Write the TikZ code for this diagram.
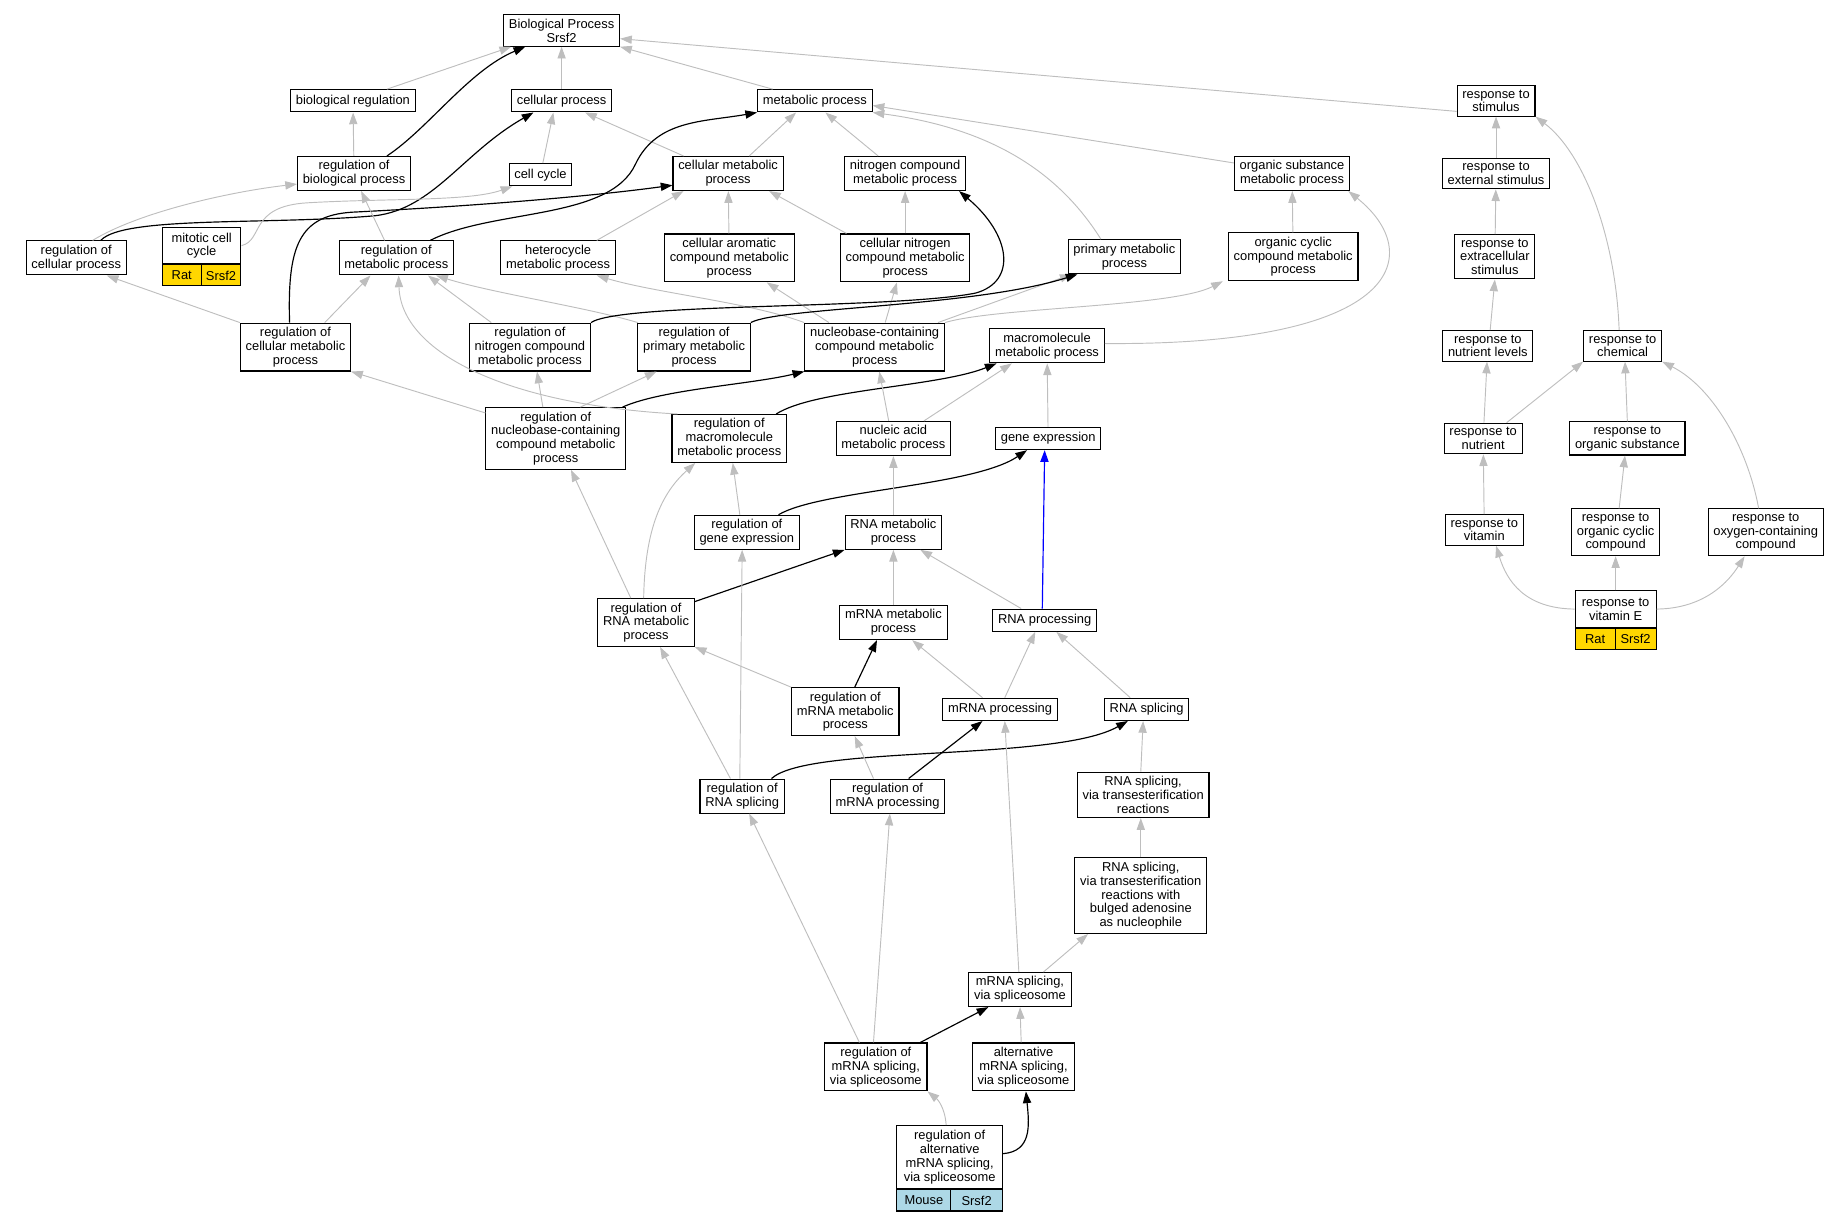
\documentclass[tikz,border=0pt]{standalone}
\usepackage{fontspec}
\setmainfont{Liberation Sans}
\usetikzlibrary{arrows.meta}
\definecolor{edgegray}{RGB}{190,190,190}
\definecolor{ratgold}{RGB}{255,215,0}
\definecolor{mouseblue}{RGB}{173,216,230}
\newcommand\gofont{\fontsize{11}{11.8}\selectfont}

\begin{document}
\begin{tikzpicture}[x=1pt,y=-1pt,
  term/.style={draw,line width=0.9pt,fill=white,align=center,font=\gofont,inner xsep=4.5pt,inner ysep=3.5pt,minimum height=19pt},
  tag/.style={draw,line width=0.9pt,font=\gofont,inner sep=0pt,minimum height=18pt},
  isa/.style={draw=edgegray,line width=0.8pt,-{Triangle[length=10pt,width=7pt]}},
  reg/.style={line width=1pt,-{Triangle[length=10pt,width=7pt]}},
  part/.style={draw=blue,line width=1pt,-{Triangle[length=10pt,width=7pt]}}]
\useasboundingbox (0,0) rectangle (1560,1040);

\node [term] (bp) at (479,26) {Biological Process\\Srsf2};
\node [term] (breg) at (301,86) {biological regulation};
\node [term] (cellp) at (479,86) {cellular process};
\node [term] (metp) at (695,86) {metabolic process};
\node [term] (rstim) at (1276,86) {response to\\stimulus};
\node [term] (rbp) at (302,148) {regulation of\\biological process};
\node [term] (cellcyc) at (461,149) {cell cycle};
\node [term] (cmp) at (621,148) {cellular metabolic\\process};
\node [term] (ncmp) at (772,148) {nitrogen compound\\metabolic process};
\node [term] (osmp) at (1102,148) {organic substance\\metabolic process};
\node [term] (rext) at (1276,148) {response to\\external stimulus};
\node [term] (rcp) at (65,220) {regulation of\\cellular process};
\node [term,minimum width=67pt,minimum height=31pt] (mit) at (172,209.5) {mitotic cell\\cycle};
\node [tag,fill=ratgold,minimum width=33pt,anchor=north west] (mita) at (mit.south west) {Rat};
\node [tag,fill=ratgold,minimum width=34pt,anchor=north east] (mitb) at (mit.south east) {Srsf2};
\node [term] (rmp) at (338,220) {regulation of\\metabolic process};
\node [term] (hmp) at (476,220) {heterocycle\\metabolic process};
\node [term] (camp) at (622,220) {cellular aromatic\\compound metabolic\\process};
\node [term] (cnmp) at (772,220) {cellular nitrogen\\compound metabolic\\process};
\node [term] (pmp) at (959,219) {primary metabolic\\process};
\node [term] (ocmp) at (1103,219) {organic cyclic\\compound metabolic\\process};
\node [term] (rextra) at (1275,219) {response to\\extracellular\\stimulus};
\node [term] (rcmp) at (252,296) {regulation of\\cellular metabolic\\process};
\node [term] (rncmp) at (452,296) {regulation of\\nitrogen compound\\metabolic process};
\node [term] (rpmp) at (592,296) {regulation of\\primary metabolic\\process};
\node [term] (nbcmp) at (746,296) {nucleobase-containing\\compound metabolic\\process};
\node [term] (mmp) at (893,295) {macromolecule\\metabolic process};
\node [term] (rnutl) at (1269,295) {response to\\nutrient levels};
\node [term] (rchem) at (1384,295) {response to\\chemical};
\node [term] (rnbcmp) at (474,374) {regulation of\\nucleobase-containing\\compound metabolic\\process};
\node [term] (rmmp) at (622,374) {regulation of\\macromolecule\\metabolic process};
\node [term] (namp) at (762,374) {nucleic acid\\metabolic process};
\node [term] (gexp) at (894,374) {gene expression};
\node [term] (rnut) at (1265,374) {response to\\nutrient};
\node [term] (rorgs) at (1388,374) {response to\\organic substance};
\node [term] (rge) at (637,454) {regulation of\\gene expression};
\node [term] (rnamp) at (762,454) {RNA metabolic\\process};
\node [term] (rvit) at (1266,452) {response to\\vitamin};
\node [term] (rocc) at (1378,454) {response to\\organic cyclic\\compound};
\node [term] (roxy) at (1506,454) {response to\\oxygen-containing\\compound};
\node [term] (rrnamp) at (551,531) {regulation of\\RNA metabolic\\process};
\node [term] (mrnamp) at (762,531) {mRNA metabolic\\process};
\node [term] (rnaproc) at (891,529) {RNA processing};
\node [term,minimum width=69pt,minimum height=31pt] (rvitE) at (1378,519.5) {response to\\vitamin E};
\node [tag,fill=ratgold,minimum width=34pt,anchor=north west] (rvitEa) at (rvitE.south west) {Rat};
\node [tag,fill=ratgold,minimum width=35pt,anchor=north east] (rvitEb) at (rvitE.south east) {Srsf2};
\node [term] (rmrnamp) at (721,607) {regulation of\\mRNA metabolic\\process};
\node [term] (mrnaproc) at (853,605) {mRNA processing};
\node [term] (rnasplic) at (978,605) {RNA splicing};
\node [term] (rrnas) at (633,679) {regulation of\\RNA splicing};
\node [term] (rmrnaproc) at (757,679) {regulation of\\mRNA processing};
\node [term] (rsvt) at (975,678) {RNA splicing,\\via transesterification\\reactions};
\node [term] (rsvtb) at (973,764) {RNA splicing,\\via transesterification\\reactions with\\bulged adenosine\\as nucleophile};
\node [term] (mrnasps) at (870,844) {mRNA splicing,\\via spliceosome};
\node [term] (rmrnasps) at (747,910) {regulation of\\mRNA splicing,\\via spliceosome};
\node [term] (amrnasps) at (873,910) {alternative\\mRNA splicing,\\via spliceosome};
\node [term,minimum width=90pt,minimum height=54pt] (ramr) at (810,987) {regulation of\\alternative\\mRNA splicing,\\via spliceosome};
\node [tag,fill=mouseblue,minimum width=46pt,anchor=north west] (ramra) at (ramr.south west) {Mouse};
\node [tag,fill=mouseblue,minimum width=44pt,anchor=north east] (ramrb) at (ramr.south east) {Srsf2};

\draw [isa] ([xshift=29]breg.north) -- ([xshift=-43]bp.south);
\draw [reg] ([xshift=28]rbp.north) .. controls (365,110) and (400,60) .. ([xshift=-31]bp.south);
\draw [isa] (cellp) -- (bp);
\draw [isa] ([xshift=-36]metp.north) -- (bp.south east);
\draw [isa] ([yshift=-9]rstim.west) -- ([yshift=-7]bp.east);
\draw [isa] (rbp) -- (breg);
\draw [isa] ([xshift=2]cellcyc.north) -- ([xshift=-7]cellp.south);
\draw [isa] ([xshift=-38]cmp.north) -- ([xshift=20]cellp.south);
\draw [reg] ([xshift=21]rcp.north) .. controls (105,184) and (230,192) .. (320,184) .. controls (370,178) and (395,130) .. ([xshift=-24]cellp.south);
\draw [reg] ([xshift=-5]rcmp.north) .. controls (245,210) and (255,184) .. (300,181) .. controls (400,176) and (500,168) .. ([yshift=-10]cmp.west);
\draw [reg] ([xshift=29]rmp.north) .. controls (420,178) and (520,188) .. (542,140) .. controls (560,102) and (600,104) .. (metp.south west);
\draw [isa] ([xshift=14]rcp.north) .. controls (120,180) and (200,163) .. ([yshift=-9]rbp.west);
\draw [isa] (mit.east) .. controls (225,205) and (212,176) .. (262,173) .. controls (330,169) and (400,172) .. ([xshift=-24]cellcyc.south);
\draw [isa] ([xshift=-10]rmp.north) -- ([xshift=6]rbp.south);
\draw [isa] (rcmp.north west) -- ([xshift=26]rcp.south);
\draw [isa] ([xshift=25]rcmp.north) -- ([xshift=-22]rmp.south);
\draw [isa] ([xshift=-33]rncmp.north) -- ([xshift=27]rmp.south);
\draw [isa] ([xshift=-48]rpmp.north) .. controls (500,262) and (420,250) .. ([xshift=34]rmp.south);
\draw [isa] ([xshift=-44]rmmp.north) .. controls (430,345) and (342,300) .. ([xshift=2]rmp.south);
\draw [isa] ([xshift=33]hmp.north) -- ([xshift=-38]cmp.south);
\draw [isa] (camp) -- (cmp);
\draw [isa] ([xshift=-50]cnmp.north) -- ([xshift=35]cmp.south);
\draw [isa] (cnmp) -- (ncmp);
\draw [isa] ([xshift=18]cmp.north) -- ([xshift=-16]metp.south);
\draw [isa] ([xshift=-23]ncmp.north) -- ([xshift=9]metp.south);
\draw [isa] ([xshift=-20]pmp.north) .. controls (905,150) and (850,110) .. (metp.south east);
\draw [isa] ([yshift=9]osmp.west) -- ([yshift=-4]metp.east);
\draw [isa] (nbcmp.north west) .. controls (640,258) and (560,250) .. ([xshift=33]hmp.south);
\draw [isa] ([xshift=-39]nbcmp.north) -- ([xshift=32]camp.south);
\draw [isa] ([xshift=9]nbcmp.north) -- ([xshift=-7]cnmp.south);
\draw [isa] ([xshift=54]nbcmp.north) -- ([xshift=-45]pmp.south);
\draw [isa] (nbcmp.north east) .. controls (850,262) and (1000,262) .. ([xshift=-60]ocmp.south);
\draw [reg] (rncmp.north east) .. controls (530,258) and (760,264) .. (832,250) .. controls (868,240) and (862,200) .. ([xshift=46]ncmp.south);
\draw [reg] (rpmp.north east) .. controls (665,262) and (830,262) .. ([xshift=-40]pmp.south);
\draw [isa] (ocmp) -- (osmp);
\draw [isa] ([yshift=2]mmp.east) .. controls (1200,295) and (1215,215) .. ([xshift=48]osmp.south);
\draw [isa] ([yshift=-5]rnbcmp.north west) -- (rcmp.south east);
\draw [isa] ([xshift=-11]rnbcmp.north) -- ([xshift=6]rncmp.south);
\draw [isa] ([xshift=21]rnbcmp.north) -- ([xshift=-32]rpmp.south);
\draw [reg] ([xshift=-3]rnbcmp.north east) .. controls (565,332) and (640,328) .. (nbcmp.south west);
\draw [reg] ([xshift=40]rmmp.north) .. controls (695,332) and (800,330) .. ([xshift=-43]mmp.south);
\draw [isa] ([xshift=-4]namp.north) -- ([xshift=4]nbcmp.south);
\draw [isa] ([xshift=26]namp.north) -- ([xshift=-30]mmp.south);
\draw [isa] (gexp) -- (mmp);
\draw [isa] ([xshift=-6]rge.north) -- ([xshift=3]rmmp.south);
\draw [reg] ([xshift=27]rge.north) .. controls (700,418) and (830,415) .. ([xshift=-18]gexp.south);
\draw [isa] (rnamp) -- (namp);
\draw [isa] ([xshift=-13]rrnamp.north) -- ([xshift=13]rnbcmp.south);
\draw [isa] ([xshift=-2]rrnamp.north) .. controls (550,450) and (565,420) .. ([xshift=-29]rmmp.south);
\draw [reg] ([yshift=-3]rrnamp.north east) -- (rnamp.south west);
\draw [isa] (mrnamp) -- (rnamp);
\draw [isa] ([xshift=-20]rnaproc.north) -- ([xshift=23]rnamp.south);
\draw [part] ([xshift=-2]rnaproc.north) -- ([xshift=-3]gexp.south);
\draw [isa] (rmrnamp.north west) -- (rrnamp.south east);
\draw [reg] ([xshift=8]rmrnamp.north) -- ([xshift=-14]mrnamp.south);
\draw [isa] ([xshift=-15]mrnaproc.north) -- ([xshift=16]mrnamp.south);
\draw [isa] ([xshift=4]mrnaproc.north) -- ([xshift=-8]rnaproc.south);
\draw [isa] ([xshift=-14]rnasplic.north) -- ([xshift=10]rnaproc.south);
\draw [isa] ([xshift=-10]rrnas.north) -- ([xshift=12]rrnamp.south);
\draw [isa] ([xshift=-2]rrnas.north) -- ([xshift=-4]rge.south);
\draw [reg] ([xshift=25]rrnas.north) .. controls (690,635) and (900,650) .. ([xshift=-16]rnasplic.south);
\draw [isa] ([xshift=-12]rmrnaproc.north) -- ([xshift=8]rmrnamp.south);
\draw [reg] ([xshift=18]rmrnaproc.north) -- ([xshift=-15]mrnaproc.south);
\draw [isa] ([xshift=-2]rsvt.north) -- ([xshift=-3]rnasplic.south);
\draw [isa] ([xshift=-1]mrnasps.north) -- ([xshift=4]mrnaproc.south);
\draw [isa] (rsvtb) -- ([xshift=-2]rsvt.south);
\draw [isa] ([xshift=20]mrnasps.north) -- ([xshift=-45]rsvtb.south);
\draw [isa] ([xshift=-14]rmrnasps.north) -- ([xshift=6]rrnas.south);
\draw [isa] ([xshift=-2]rmrnasps.north) -- ([xshift=2]rmrnaproc.south);
\draw [reg] ([xshift=38]rmrnasps.north) -- ([xshift=-27]mrnasps.south);
\draw [isa] ([xshift=-2]amrnasps.north) -- (mrnasps.south);
\draw [isa] ([xshift=-3]ramr.north) .. controls (806,945) and (800,938) .. (rmrnasps.south east);
\draw [reg] ([yshift=3]ramr.east) .. controls (880,982) and (878,960) .. ([xshift=2]amrnasps.south);

\draw [isa] (rext) -- (rstim);
\draw [isa] (rextra) -- (rext);
\draw [isa] ([xshift=2]rnutl.north) -- (rextra.south);
\draw [isa] ([xshift=-3]rchem.north) .. controls (1378,200) and (1350,130) .. (rstim.south east);
\draw [isa] (rnut) -- (rnutl);
\draw [isa] ([xshift=20]rnut.north) -- (rchem.south west);
\draw [isa] (rorgs.north) -- ([xshift=2]rchem.south);
\draw [isa] ([xshift=-6]roxy.north) .. controls (1490,380) and (1460,330) .. (rchem.south east);
\draw [isa] (rvit) -- (rnut);
\draw [isa] ([xshift=3]rocc.north) -- ([xshift=-2]rorgs.south);
\draw [isa] (rvitE.west) .. controls (1300,519) and (1285,495) .. ([xshift=10]rvit.south);
\draw [isa] (rvitE.north) -- (rocc.south);
\draw [isa] (rvitE.east) .. controls (1455,519) and (1475,495) .. ([xshift=-18]roxy.south);

\end{tikzpicture}
\end{document}
